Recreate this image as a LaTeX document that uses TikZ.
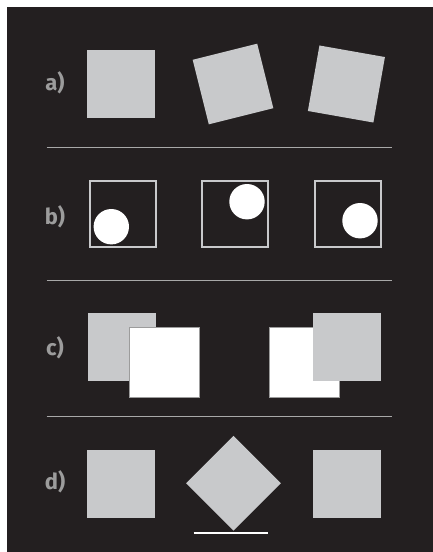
\documentclass[tikz,border=0pt]{standalone}
\usepackage{fontspec}
\setmainfont{Fira Sans}
\definecolor{bgdark}{HTML}{231F20}
\definecolor{shapegray}{HTML}{C8C9CB}
\definecolor{labelgray}{HTML}{9C9C9C}
\definecolor{rulegray}{HTML}{A8A8A8}
\begin{document}
\begin{tikzpicture}[x=1pt,y=-1pt,
  tile/.style={fill=shapegray, minimum size=68pt, inner sep=0pt, outer sep=0pt},
  frame/.style={draw=shapegray, line width=2pt, minimum size=66pt, inner sep=0pt},
  dot/.style={circle, fill=white, minimum size=35.4pt, inner sep=0pt},
  blank/.style={fill=white, draw=labelgray, line width=0.6pt, minimum size=70pt, inner sep=0pt},
  tag/.style={text=labelgray, font=\fontsize{22}{22}\selectfont\bfseries, inner sep=0pt},
  rule/.style={draw=rulegray, line width=1.3pt}]
\useasboundingbox (0,0) rectangle (433,552);
\fill[white] (0,0) rectangle (433,552);
\fill[bgdark] (7,7) rectangle (433,552);

% row a: upright and tilted tiles
\node[tag] (la) at (55,83) {a)};
\node[tile] (a1) at (121,84) {};
\node[tile, minimum size=66.5pt, rotate=14] (a2) at (233,84) {};
\node[tile, minimum size=66.5pt, rotate=-10] (a3) at (346.4,84) {};

\draw[rule] (46.7,147.3) -- (392.3,147.3);

% row b: frames with dots
\node[tag] (lb) at (55,217) {b)};
\node[frame] (b1) at (122.6,214.2) {};
\node[frame] (b2) at (234.8,214.2) {};
\node[frame] (b3) at (348.2,214.2) {};
\node[dot] (d1) at (111.3,226.7) {};
\node[dot] (d2) at (247,201.7) {};
\node[dot] (d3) at (360,220.7) {};

\draw[rule] (46.7,280.5) -- (392.3,280.5);

% row c: overlapping tiles
\node[tag] (lc) at (55,347.5) {c)};
\node[tile] (c1) at (122,346.7) {};
\node[blank] (c2) at (164.3,362.5) {};
\node[blank] (c3) at (304.3,362.5) {};
\node[tile] (c4) at (347.2,346.7) {};

\draw[rule] (46.7,416.7) -- (392.3,416.7);

% row d: tile, diamond on a base line, tile
\node[tag] (ld) at (55,482) {d)};
\node[tile] (e1) at (121,483.8) {};
\node[tile, minimum size=67pt, rotate=45] (e2) at (233.5,483.3) {};
\node[tile] (e3) at (347.2,483.8) {};
\draw[white, line width=1.5pt] (193.7,533) -- (267.7,533);
\end{tikzpicture}
\end{document}
